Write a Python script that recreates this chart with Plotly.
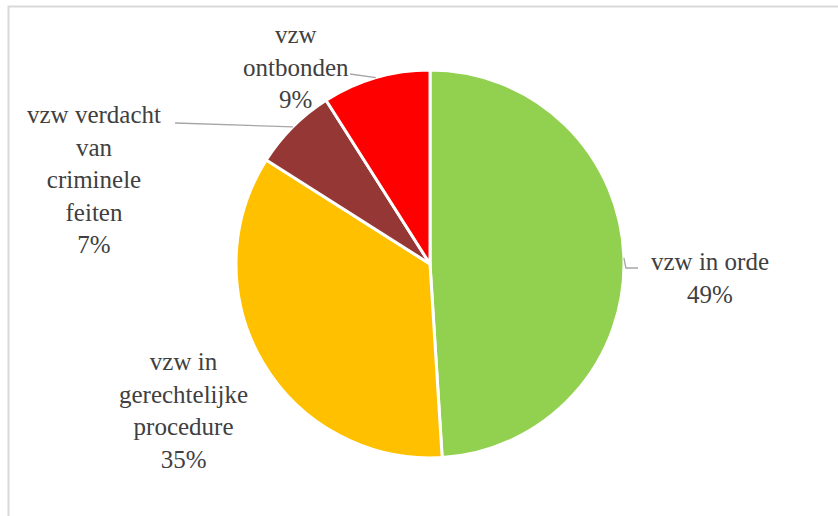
import math
import plotly.graph_objects as go

# ---- data ----
categories = ["vzw in orde", "vzw in gerechtelijke procedure",
              "vzw verdacht van criminele feiten", "vzw ontbonden"]
values = [49, 35, 7, 9]
label_texts = ["vzw in orde<br>49%", "vzw in<br>gerechtelijke<br>procedure<br>35%",
               "vzw verdacht<br>van<br>criminele<br>feiten<br>7%", "vzw<br>ontbonden<br>9%"]
colors = ["#92D050", "#FFC000", "#953735", "#FF0000"]

W, H = 838, 516
CX, CY, R = 430, 264, 194
FONT = "Liberation Serif, Liberation Sans, serif"

def px(x):
    return x / W

def py(y):
    return 1 - y / H

fig = go.Figure(go.Pie(
    labels=categories, values=values, sort=False, direction="clockwise",
    rotation=0, marker=dict(colors=colors, line=dict(color="white", width=3)),
    textinfo="none", hoverinfo="label+percent", showlegend=False,
    domain=dict(x=[px(CX - R), px(CX + R)], y=[py(CY + R), py(CY - R)]),
))

# label layout: pixel positions of label centres and leader-line start points
label_pos = [(710, 278), (183, 410), (94, 180), (296, 67)]
leader_start = [(638, 268), None, (175, 123), (350, 74)]

total = sum(values)
cum = 0
annotations = []
shapes = []
for i, v in enumerate(values):
    mid = (cum + v / 2) / total
    cum += v
    th = 2 * math.pi * mid
    ax = CX + R * math.sin(th)
    ay = CY - R * math.cos(th)
    lx, ly = label_pos[i]
    annotations.append(dict(
        x=px(lx), y=py(ly), xref="paper", yref="paper", text=label_texts[i],
        showarrow=False, align="center", xanchor="center", yanchor="middle",
        font=dict(family=FONT, size=25, color="#404040"),
    ))
    if leader_start[i] is not None:
        sx, sy = leader_start[i]
        if i == 0:
            path = f"M {px(sx)} {py(sy)} L {px(ax + 2)} {py(sy)} L {px(ax)} {py(ay)}"
        else:
            path = f"M {px(sx)} {py(sy)} L {px(ax)} {py(ay)}"
        shapes.append(dict(type="path", xref="paper", yref="paper", path=path,
                           line=dict(color="#A6A6A6", width=1.3)))

# chart border
shapes.append(dict(type="rect", xref="paper", yref="paper",
                   x0=px(8.5), x1=px(W + 5), y0=py(H + 5), y1=py(6.5),
                   line=dict(color="#D9D9D9", width=2), layer="below"))

fig.update_layout(
    width=W, height=H, margin=dict(l=0, r=0, t=0, b=0),
    paper_bgcolor="white", plot_bgcolor="white",
    font=dict(family=FONT),
    annotations=annotations, shapes=shapes,
)
fig.write_html("out.html", config={"displayModeBar": False},
               post_script="document.body.style.margin='0';document.body.style.padding='0';")
